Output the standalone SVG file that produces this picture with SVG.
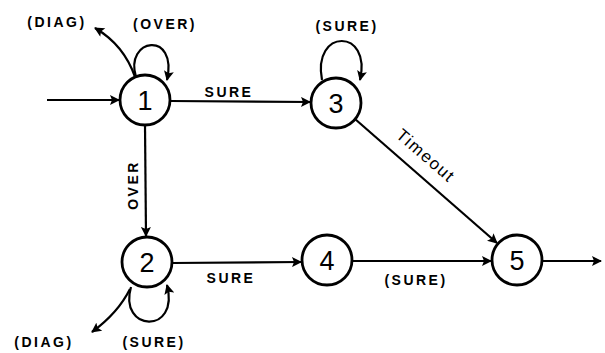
<svg xmlns="http://www.w3.org/2000/svg" width="605" height="353" viewBox="0 0 605 353">
<style>
.node circle{fill:#fff;stroke:#000;stroke-width:2.8}
.num{font-family:"Liberation Sans",Arial,sans-serif;font-size:27px;text-anchor:middle;fill:#000}
.lbl{font-family:"Liberation Sans",Arial,sans-serif;font-size:14px;font-weight:bold;text-anchor:middle;fill:#000;letter-spacing:2.5px}
.edge{fill:none;stroke:#000;stroke-width:2.2;marker-end:url(#ah)}
.tl{font-family:"Liberation Sans",Arial,sans-serif;font-size:17px;text-anchor:middle;fill:#000;letter-spacing:1.5px}
</style>
<defs>
<marker id="ah" viewBox="0 0 10 10" refX="9" refY="5" markerWidth="12" markerHeight="10" markerUnits="userSpaceOnUse" orient="auto">
<path d="M0,0 L10,5 L0,10 L2,5 Z" fill="#000"/>
</marker>
</defs>
<rect width="605" height="353" fill="#fff"/>
<g id="connectors">
<path class="edge" d="M47,100 L119,100"/>
<path class="edge" d="M170,101 L310,102"/>
<path class="edge" d="M145,125 L146,236"/>
<path class="edge" d="M172,263 L301,262"/>
<path class="edge" d="M352,261 L491,261"/>
<path class="edge" d="M355,119 L497,243"/>
<path class="edge" d="M542,261 L601,261"/>
<path class="edge" d="M136,77 C 124,38 178,30 167,80"/>
<path class="edge" d="M135,77 Q 124,45 95,28"/>
<path class="edge" d="M322,80 C 312,28 372,28 360,80"/>
<path class="edge" d="M131,287 C 118,332 180,335 167,285"/>
<path class="edge" d="M130,289 Q 118,313 92,332"/>
</g>
<g id="n1" class="node"><circle cx="145" cy="100" r="25"/><text class="num" x="145" y="110">1</text></g>
<g id="n2" class="node"><circle cx="147" cy="262" r="25"/><text class="num" x="147" y="272">2</text></g>
<g id="n3" class="node"><circle cx="336" cy="103" r="25"/><text class="num" x="336" y="113">3</text></g>
<g id="n4" class="node"><circle cx="327" cy="260" r="25"/><text class="num" x="327" y="270">4</text></g>
<g id="n5" class="node"><circle cx="517" cy="260" r="25"/><text class="num" x="517" y="270">5</text></g>
<g id="labels">
<text class="lbl" x="57" y="27">(DIAG)</text>
<text class="lbl" x="165" y="29">(OVER)</text>
<text class="lbl" x="229" y="97">SURE</text>
<text class="lbl" x="347" y="31">(SURE)</text>
<text class="tl" transform="translate(422,160) rotate(41)" x="0" y="0">Timeout</text>
<text class="lbl" transform="translate(138,185) rotate(-90)" x="0" y="0">OVER</text>
<text class="lbl" x="231" y="283">SURE</text>
<text class="lbl" x="416" y="285">(SURE)</text>
<text class="lbl" x="44" y="347">(DIAG)</text>
<text class="lbl" x="154" y="347">(SURE)</text>
</g>
</svg>
